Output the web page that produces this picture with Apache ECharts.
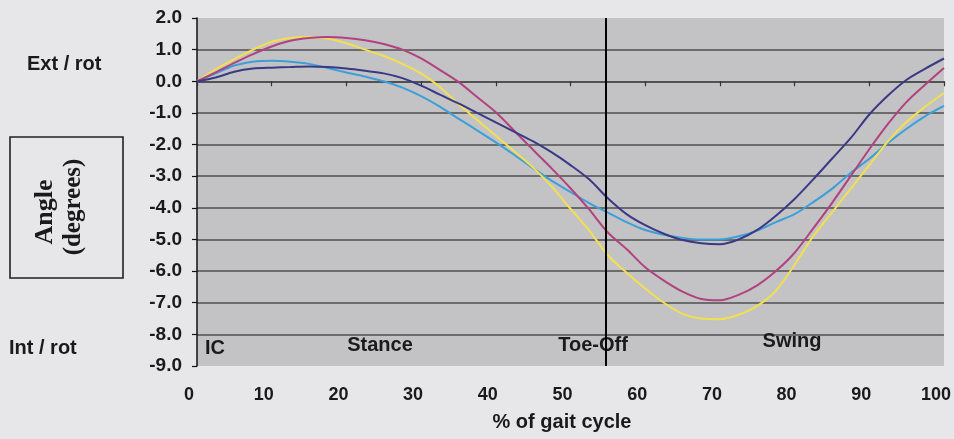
<!DOCTYPE html>
<html>
<head>
<meta charset="utf-8">
<script src="https://cdn.jsdelivr.net/npm/echarts@6/dist/echarts.min.js"></script>
<style>
html,body{margin:0;padding:0;background:#e7e7e9;}
#c{width:954px;height:439px;}
</style>
</head>
<body>
<div id="c"></div>
<script>
// % of gait cycle
const pct = [0,2.5,5,7.5,10,12.5,15,17.5,20,22.5,25,27.5,30,32.5,35,37.5,40,42.5,45,47.5,50,52.5,55,57.5,60,62.5,65,67.5,70,72.5,75,77.5,80,82.5,85,87.5,90,92.5,95,97.5,100];
// rotation angle (degrees), four curves
const navy    = [0,0.12,0.3,0.4,0.43,0.45,0.47,0.45,0.4,0.33,0.25,0.1,-0.14,-0.42,-0.7,-1.0,-1.3,-1.6,-1.9,-2.25,-2.65,-3.1,-3.7,-4.2,-4.55,-4.82,-5.02,-5.12,-5.15,-5.0,-4.7,-4.25,-3.72,-3.1,-2.45,-1.8,-1.05,-0.45,0.05,0.4,0.72];
const magenta = [0,0.28,0.58,0.86,1.1,1.28,1.37,1.4,1.37,1.3,1.18,1.0,0.72,0.36,-0.02,-0.5,-0.98,-1.57,-2.17,-2.76,-3.38,-4.05,-4.78,-5.3,-5.88,-6.3,-6.65,-6.88,-6.92,-6.75,-6.45,-6.0,-5.42,-4.65,-3.85,-3.0,-2.15,-1.35,-0.65,-0.1,0.42];
const yellow  = [0,0.38,0.7,1.0,1.25,1.37,1.4,1.35,1.2,1.0,0.8,0.55,0.25,-0.18,-0.72,-1.22,-1.72,-2.22,-2.73,-3.33,-4.03,-4.72,-5.5,-6.05,-6.55,-7.0,-7.35,-7.5,-7.52,-7.38,-7.1,-6.62,-5.8,-4.9,-4.15,-3.4,-2.65,-1.9,-1.28,-0.8,-0.37];
const ltblue  = [0,0.25,0.5,0.62,0.65,0.62,0.55,0.42,0.28,0.15,0.0,-0.2,-0.47,-0.8,-1.18,-1.55,-1.93,-2.33,-2.75,-3.15,-3.5,-3.85,-4.15,-4.45,-4.7,-4.85,-4.95,-5.0,-5.0,-4.9,-4.72,-4.45,-4.2,-3.82,-3.4,-2.9,-2.45,-1.95,-1.5,-1.1,-0.78];
const toeOff = 54.7;
const yMin = -9, yMax = 2, yStep = 1;
const xMin = 0, xMax = 100, xStep = 10;
const phaseLabels = ['IC','Stance','Toe-Off','Swing'];

const F = "'Liberation Sans', Arial, sans-serif";
const SERIF = "'Liberation Serif', 'Times New Roman', serif";
const pairs = arr => pct.map((x,i)=>[x,arr[i]]);
const mk = (data,color,extra) => Object.assign({
  type:'line', data:pairs(data), showSymbol:false, symbol:'none', smooth:0.3,
  lineStyle:{color:color,width:2}, itemStyle:{color:color}, z:3, silent:true
}, extra||{});

const chart = echarts.init(document.getElementById('c'), null, {renderer:'canvas'});
chart.setOption({
  animation:false,
  backgroundColor:'#e7e7e9',
  grid:{left:197,right:8,top:18,bottom:73,show:true,backgroundColor:'#c3c3c5',borderWidth:0},
  xAxis:[{
    type:'value',min:xMin,max:xMax,interval:xStep,position:'bottom',
    axisLine:{show:false,onZero:false},axisTick:{show:false},splitLine:{show:false},
    axisLabel:{fontFamily:F,fontWeight:'bold',fontSize:18,color:'#1a1a1a',margin:20,padding:[0,16,0,0]}
  },{
    type:'value',min:xMin,max:xMax,interval:xStep,position:'bottom',
    axisLine:{show:true,onZero:true,lineStyle:{color:'#4a4a4a',width:1.5}},
    axisTick:{show:true,inside:false,length:5,lineStyle:{color:'#333',width:1.2}},
    axisLabel:{show:false},splitLine:{show:false}
  }],
  yAxis:{
    type:'value',min:yMin,max:yMax,interval:yStep,
    axisLine:{show:true,onZero:false,lineStyle:{color:'#111',width:1.5}},
    axisTick:{show:true,inside:false,length:5,lineStyle:{color:'#111',width:1.2}},
    axisLabel:{fontFamily:F,fontWeight:'bold',fontSize:19,color:'#1a1a1a',margin:15,formatter:v=>v.toFixed(1)},
    splitLine:{show:true,showMinLine:false,showMaxLine:false,lineStyle:{color:'#4f4f4f',width:1.5}}
  },
  series:[
    mk(ltblue,'#3d9fd9'),
    mk(yellow,'#f2e050'),
    mk(magenta,'#b2417f'),
    mk(navy,'#3a3986',{
      markLine:{silent:true,symbol:['none','none'],label:{show:false},
        lineStyle:{color:'#000',width:2,type:'solid'},data:[{xAxis:toeOff}]}
    })
  ],
  graphic:[
    {type:'text',left:27,top:54,z:10,style:{text:'Ext / rot',font:"bold 20px "+F,fill:'#1a1a1a'}},
    {type:'text',left:9,top:338,z:10,style:{text:'Int / rot',font:"bold 20px "+F,fill:'#1a1a1a'}},
    {type:'rect',z:10,shape:{x:10,y:137,width:113,height:141},style:{fill:'none',stroke:'#222',lineWidth:1.6}},
    {type:'text',x:45,y:212,rotation:Math.PI/2,z:10,style:{text:'Angle',font:"bold 26px "+SERIF,fill:'#1a1a1a',align:'center',verticalAlign:'middle'}},
    {type:'text',x:74,y:207,rotation:Math.PI/2,z:10,style:{text:'(degrees)',font:"bold 25px "+SERIF,fill:'#1a1a1a',align:'center',verticalAlign:'middle'}},
    {type:'text',x:215,y:348,z:1,style:{text:phaseLabels[0],font:"bold 20px "+F,fill:'#1a1a1a',align:'center',verticalAlign:'middle'}},
    {type:'text',x:380,y:345,z:1,style:{text:phaseLabels[1],font:"bold 20px "+F,fill:'#1a1a1a',align:'center',verticalAlign:'middle'}},
    {type:'text',x:593,y:345,z:1,style:{text:phaseLabels[2],font:"bold 20px "+F,fill:'#1a1a1a',align:'center',verticalAlign:'middle'}},
    {type:'text',x:792,y:341,z:1,style:{text:phaseLabels[3],font:"bold 20px "+F,fill:'#1a1a1a',align:'center',verticalAlign:'middle'}},
    {type:'text',x:562,y:422,z:10,style:{text:'% of gait cycle',font:"bold 20px "+F,fill:'#1a1a1a',align:'center',verticalAlign:'middle'}}
  ]
});
</script>
</body>
</html>
